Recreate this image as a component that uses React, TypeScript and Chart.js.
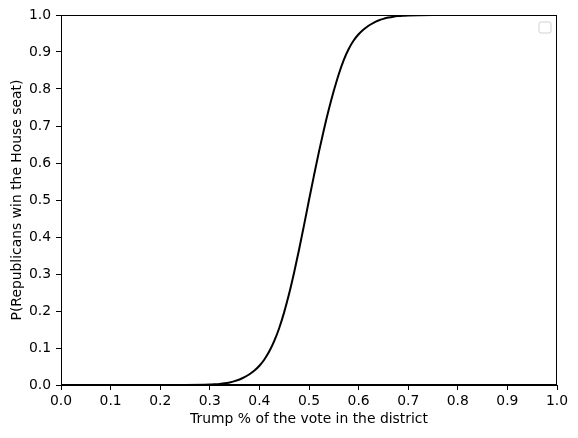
import React, { useEffect, useRef } from "react";
import { Chart, registerables } from "chart.js";

Chart.register(...registerables);

const trumpShare: number[] = [
  0.0, 0.05, 0.1, 0.15, 0.2, 0.25, 0.3, 0.31, 0.32, 0.33, 0.34, 0.35, 0.36, 0.37, 0.38, 0.39,
  0.4, 0.41, 0.42, 0.43, 0.44, 0.45, 0.46, 0.47, 0.48, 0.49, 0.5, 0.51, 0.52, 0.53, 0.54,
  0.55, 0.56, 0.57, 0.58, 0.59, 0.6, 0.61, 0.62, 0.63, 0.64, 0.65, 0.66, 0.67, 0.68, 0.69,
  0.7, 0.75, 0.8, 0.85, 0.9, 0.95, 1.0,
];
const pRepublicanWin: number[] = [
  0.0, 0.0, 0.0, 0.0, 0.0, 0.0001, 0.0012, 0.002, 0.003, 0.0045, 0.007, 0.0105, 0.015, 0.021,
  0.029, 0.039, 0.052, 0.069, 0.091, 0.119, 0.154, 0.197, 0.247, 0.304, 0.366, 0.432, 0.5,
  0.566, 0.63, 0.69, 0.745, 0.795, 0.84, 0.878, 0.908, 0.931, 0.948, 0.961, 0.971, 0.979,
  0.985, 0.9895, 0.993, 0.9955, 0.997, 0.998, 0.9988, 0.9999, 1.0, 1.0, 1.0, 1.0, 1.0,
];
const xTitle = "Trump % of the vote in the district";
const yTitle = "P(Republicans win the House seat)";

const FONT = "'DejaVu Sans', sans-serif";
const FS = 13.9;

const framePlugin = {
  id: "frame",
  afterDatasetsDraw(chart: any) {
    const { ctx, chartArea } = chart;
    ctx.save();
    ctx.strokeStyle = "#000";
    ctx.lineWidth = 1;
    ctx.strokeRect(
      Math.round(chartArea.left) + 0.5,
      Math.round(chartArea.top) + 0.5,
      Math.round(chartArea.right - chartArea.left) - 1,
      Math.round(chartArea.bottom - chartArea.top) - 1
    );
    // empty legend frame (upper right)
    const w = 12;
    const h = 11;
    const x = chartArea.right - 6 - w;
    const y = chartArea.top + 7;
    ctx.strokeStyle = "rgba(204,204,204,0.9)";
    ctx.fillStyle = "rgba(255,255,255,0.8)";
    ctx.beginPath();
    const r = 2;
    ctx.moveTo(x + r, y);
    ctx.lineTo(x + w - r, y);
    ctx.quadraticCurveTo(x + w, y, x + w, y + r);
    ctx.lineTo(x + w, y + h - r);
    ctx.quadraticCurveTo(x + w, y + h, x + w - r, y + h);
    ctx.lineTo(x + r, y + h);
    ctx.quadraticCurveTo(x, y + h, x, y + h - r);
    ctx.lineTo(x, y + r);
    ctx.quadraticCurveTo(x, y, x + r, y);
    ctx.closePath();
    ctx.fill();
    ctx.stroke();
    ctx.restore();
  },
};

export default function App() {
  const ref = useRef<HTMLCanvasElement | null>(null);

  useEffect(() => {
    document.body.style.margin = "0";
    const canvas = ref.current;
    if (!canvas) return;
    const chart = new Chart(canvas, {
      type: "line",
      data: {
        datasets: [
          {
            data: trumpShare.map((x, i) => ({ x, y: pRepublicanWin[i] })),
            borderColor: "#000",
            borderWidth: 2,
            pointRadius: 0,
            cubicInterpolationMode: "monotone",
            fill: false,
          },
        ],
      },
      options: {
        responsive: false,
        animation: false,
        devicePixelRatio: 1,
        layout: { padding: { top: 15, right: 21, left: 0, bottom: 0 } },
        plugins: { legend: { display: false }, tooltip: { enabled: false } },
        scales: {
          x: {
            type: "linear",
            min: 0,
            max: 1,
            afterFit: (s: any) => {
              s.height = 53;
            },
            border: { display: true, color: "#000", width: 1 },
            grid: { drawOnChartArea: false, tickLength: 5, color: "#000", tickColor: "#000" },
            ticks: {
              stepSize: 0.1,
              color: "#000",
              font: { family: FONT, size: FS },
              padding: 3,
              maxRotation: 0,
              callback: (v: any) => Number(v).toFixed(1),
            },
            title: {
              display: true,
              text: xTitle,
              color: "#000",
              font: { family: FONT, size: FS },
              padding: { top: 0, bottom: 10 },
            },
          },
          y: {
            type: "linear",
            min: 0,
            max: 1,
            afterFit: (s: any) => {
              s.width = 61;
            },
            border: { display: true, color: "#000", width: 1 },
            grid: { drawOnChartArea: false, tickLength: 5, color: "#000", tickColor: "#000" },
            ticks: {
              stepSize: 0.1,
              color: "#000",
              font: { family: FONT, size: FS },
              padding: 5,
              callback: (v: any) => Number(v).toFixed(1),
            },
            title: {
              display: true,
              text: yTitle,
              color: "#000",
              font: { family: FONT, size: FS },
              padding: { top: 9, bottom: 0 },
            },
          },
        },
      },
      plugins: [framePlugin],
    });
    return () => chart.destroy();
  }, []);

  return <canvas ref={ref} width={578} height={438} style={{ display: "block" }} />;
}
